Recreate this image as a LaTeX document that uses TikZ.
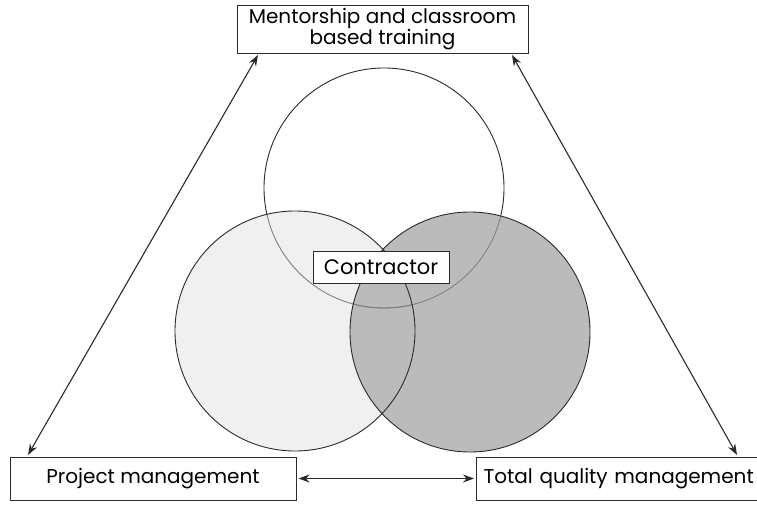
\documentclass[tikz,border=0pt]{standalone}
\usepackage{fontspec}
\setmainfont{Poppins}
\usetikzlibrary{arrows.meta}
\definecolor{lightfill}{HTML}{F0F0F0}
\definecolor{darkfill}{HTML}{BBBBBB}
\definecolor{lineclr}{HTML}{2A2A2A}
\begin{document}
\begin{tikzpicture}[x=1pt,y=-1pt,
  labelbox/.style={draw=lineclr,line width=1pt,fill=white,inner sep=0pt,font=\fontsize{20}{19}\selectfont,align=center},
  conn/.style={lineclr,line width=1.1pt,{Stealth[length=11pt,width=8pt]}-{Stealth[length=11pt,width=8pt]}},
  ring/.style={lineclr,line width=0.9pt}]
\useasboundingbox (0,0) rectangle (757,506);
\clip (0,0) rectangle (757,506);
% circles
\coordinate (ct) at (384,188);
\coordinate (cl) at (295,331);
\coordinate (cr) at (470,332);
\fill[white] (ct) circle (120);
\draw[ring] (ct) circle (120);
\fill[lightfill] (cl) circle (120);
\fill[darkfill] (cr) circle (120);
\begin{scope}
\clip (cl) circle (120);
\draw[ring,gray] (ct) circle (120);
\end{scope}
\begin{scope}
\clip (cr) circle (120);
\draw[ring,gray] (ct) circle (120);
\end{scope}
\draw[ring] (cl) circle (120);
\draw[ring] (cr) circle (120);
% boxes
\node[labelbox,minimum width=291pt,minimum height=48pt] (mt) at (382.5,29) {Mentorship and classroom\\based training};
\node[labelbox,minimum width=286pt,minimum height=43pt] (pm) at (153,478.5) {Project management};
\node[labelbox,minimum width=290pt,minimum height=43pt,anchor=west,text width=284pt,align=left] (tq) at (476,478.5) {\hspace*{4pt}Total quality management};
\node[labelbox,minimum width=136pt,minimum height=32pt] (co) at (381,267) {\fontsize{21}{21}\selectfont Contractor};
% connectors
\coordinate (a1) at (258,55);
\coordinate (a2) at (28,455);
\coordinate (b1) at (512,55);
\coordinate (b2) at (737,455);
\draw[conn] (a1) -- (a2);
\draw[conn] (b1) -- (b2);
\path (pm.east) ++(2,0) coordinate (p1) (tq.west) ++(-2,0) coordinate (p2);
\draw[conn] (p1) -- (p2);
\end{tikzpicture}
\end{document}
